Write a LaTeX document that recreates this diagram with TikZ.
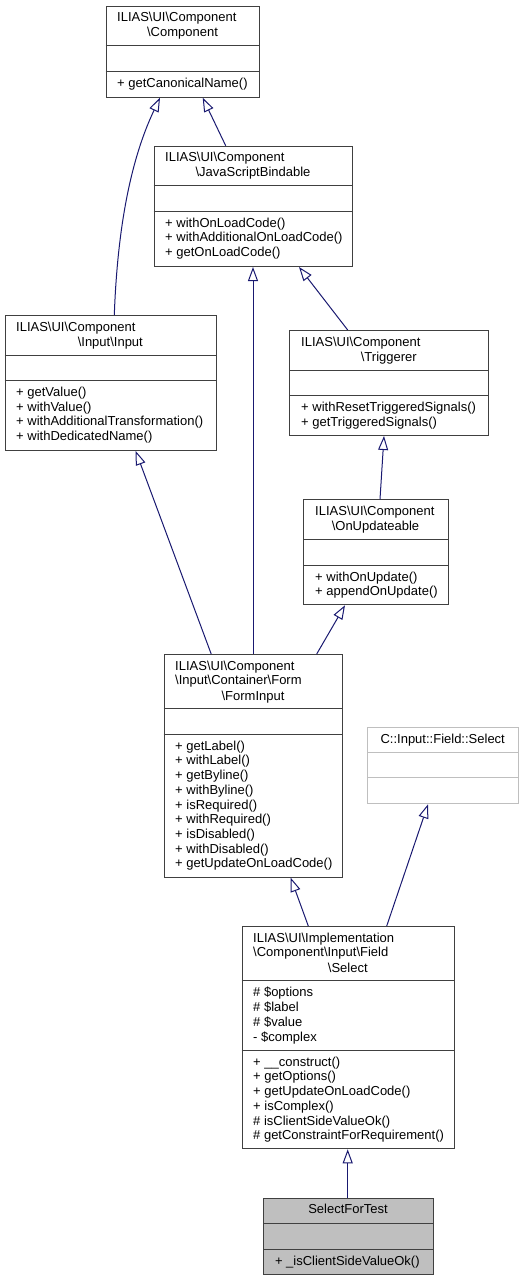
\documentclass[tikz,border=0pt]{standalone}
\usepackage{fontspec}
\setmainfont{Liberation Sans}
\usepackage{xcolor}
\usepackage{tikz}
\usetikzlibrary{arrows.meta, calc}

\definecolor{edgeblue}{HTML}{191970}
\definecolor{boxline}{HTML}{404040}
\definecolor{boxfill}{HTML}{BFBFBF}
\newcommand{\bks}{\textbackslash}

\begin{document}
\begin{tikzpicture}[x=1pt, y=-1pt,
    classbox/.style={draw=boxline, line width=1pt, anchor=north west, inner sep=0pt},
    extbox/.style={classbox, draw=boxfill},
    txt/.style={inner sep=0pt, font=\fontsize{13}{14.7}\selectfont, align=left},
    lines/.style={txt, anchor=north west, yshift=10.29pt},
    inherit/.style={draw=edgeblue, line width=1pt, -{Triangle[open, length=14pt, width=10pt]}}]
  \useasboundingbox (0,0) rectangle (523,1280);

  % ILIAS\UI\Component\Component
  \node[classbox, minimum width=153.6, minimum height=91] (component) at (105.7,5.7) {};
  \draw[boxline, line width=1pt] (component.west |- 0,45.7) -- (component.east |- 0,45.7);
  \draw[boxline, line width=1pt] (component.west |- 0,71) -- (component.east |- 0,71);
  \node[txt, anchor=base west] at (117,21.7) {ILIAS\bks UI\bks Component};
  \node[txt, anchor=base] at (182.5,36.7) {\bks Component};
  \node[txt, anchor=base west] at (117,87) {+ getCanonicalName()};

  % ILIAS\UI\Component\JavaScriptBindable
  \node[classbox, minimum width=198.6, minimum height=120.3] (jsb) at (153.7,145.7) {};
  \draw[boxline, line width=1pt] (jsb.west |- 0,185.7) -- (jsb.east |- 0,185.7);
  \draw[boxline, line width=1pt] (jsb.west |- 0,211) -- (jsb.east |- 0,211);
  \node[txt, anchor=base west] at (165,161.7) {ILIAS\bks UI\bks Component};
  \node[txt, anchor=base] at (253,176.7) {\bks JavaScriptBindable};
  \node[lines] at (165,227) {\strut+ withOnLoadCode()\\+ withAdditionalOnLoadCode()\\+ getOnLoadCode()};

  % ILIAS\UI\Component\Input\Input
  \node[classbox, minimum width=211.3, minimum height=135] (input) at (4.7,315) {};
  \draw[boxline, line width=1pt] (input.west |- 0,355) -- (input.east |- 0,355);
  \draw[boxline, line width=1pt] (input.west |- 0,380.3) -- (input.east |- 0,380.3);
  \node[txt, anchor=base west] at (16,331) {ILIAS\bks UI\bks Component};
  \node[txt, anchor=base] at (110.3,346) {\bks Input\bks Input};
  \node[lines] at (16,396.3) {\strut+ getValue()\\+ withValue()\\+ withAdditionalTransformation()\\+ withDedicatedName()};

  % ILIAS\UI\Component\Triggerer
  \node[classbox, minimum width=199, minimum height=105] (triggerer) at (289.3,330) {};
  \draw[boxline, line width=1pt] (triggerer.west |- 0,370) -- (triggerer.east |- 0,370);
  \draw[boxline, line width=1pt] (triggerer.west |- 0,395.3) -- (triggerer.east |- 0,395.3);
  \node[txt, anchor=base west] at (301,346) {ILIAS\bks UI\bks Component};
  \node[txt, anchor=base] at (388.8,361) {\bks Triggerer};
  \node[lines] at (301,411.3) {\strut+ withResetTriggeredSignals()\\+ getTriggeredSignals()};

  % ILIAS\UI\Component\OnUpdateable
  \node[classbox, minimum width=144.4, minimum height=105] (onupdate) at (303.3,499.3) {};
  \draw[boxline, line width=1pt] (onupdate.west |- 0,539) -- (onupdate.east |- 0,539);
  \draw[boxline, line width=1pt] (onupdate.west |- 0,565) -- (onupdate.east |- 0,565);
  \node[txt, anchor=base west] at (315,515.3) {ILIAS\bks UI\bks Component};
  \node[txt, anchor=base] at (375.5,530.3) {\bks OnUpdateable};
  \node[lines] at (315,581) {\strut+ withOnUpdate()\\+ appendOnUpdate()};

  % ILIAS\UI\Component\Input\Container\Form\FormInput
  \node[classbox, minimum width=178.6, minimum height=222.7] (forminput) at (163.7,654) {};
  \draw[boxline, line width=1pt] (forminput.west |- 0,708.3) -- (forminput.east |- 0,708.3);
  \draw[boxline, line width=1pt] (forminput.west |- 0,734) -- (forminput.east |- 0,734);
  \node[lines] at (175,670) {\strut ILIAS\bks UI\bks Component\\\bks Input\bks Container\bks Form};
  \node[txt, anchor=base] at (253,700) {\bks FormInput};
  \node[lines] at (175,750) {\strut+ getLabel()\\+ withLabel()\\+ getByline()\\+ withByline()\\+ isRequired()\\+ withRequired()\\+ isDisabled()\\+ withDisabled()\\+ getUpdateOnLoadCode()};

  % C::Input::Field::Select
  \node[extbox, minimum width=151.3, minimum height=76] (cselect) at (367,727.3) {};
  \draw[boxfill, line width=1pt] (cselect.west |- 0,752.7) -- (cselect.east |- 0,752.7);
  \draw[boxfill, line width=1pt] (cselect.west |- 0,777.7) -- (cselect.east |- 0,777.7);
  \node[txt, anchor=base] at (442.7,743.3) {C::Input::Field::Select};

  % ILIAS\UI\Implementation\Component\Input\Field\Select
  \node[classbox, minimum width=212.3, minimum height=222.3] (select) at (241.7,926) {};
  \draw[boxline, line width=1pt] (select.west |- 0,980.7) -- (select.east |- 0,980.7);
  \draw[boxline, line width=1pt] (select.west |- 0,1050) -- (select.east |- 0,1050);
  \node[lines] at (253,942) {\strut ILIAS\bks UI\bks Implementation\\\bks Component\bks Input\bks Field};
  \node[txt, anchor=base] at (347.8,972) {\bks Select};
  \node[lines] at (253,996.7) {\strut\# \$options\\\# \$label\\\# \$value\\- \$complex};
  \node[lines] at (253,1066) {\strut+ \_\_construct()\\+ getOptions()\\+ getUpdateOnLoadCode()\\+ isComplex()\\\# isClientSideValueOk()\\\# getConstraintForRequirement()};

  % SelectForTest
  \node[classbox, fill=boxfill, minimum width=169.4, minimum height=76] (fortest) at (263.3,1197.7) {};
  \draw[boxline, line width=1pt] (fortest.west |- 0,1223) -- (fortest.east |- 0,1223);
  \draw[boxline, line width=1pt] (fortest.west |- 0,1249) -- (fortest.east |- 0,1249);
  \node[txt, anchor=base] at (348,1213.7) {SelectForTest};
  \node[txt, anchor=base west] at (274.8,1265) {+ \_isClientSideValueOk()};

  % inheritance
  \draw[inherit] ($(input.north west)+(109.6,0)$) .. controls ($(input.north west)+(112.3,-75)$) and ($(component.south west)+(22,68)$) .. ($(component.south west)+(54.3,0)$);
  \draw[inherit] ($(jsb.north west)+(72,0)$) -- ($(component.south west)+(97,0)$);
  \draw[inherit] ($(forminput.north west)+(89.3,0)$) -- ($(jsb.south west)+(99.3,0)$);
  \draw[inherit] ($(triggerer.north west)+(58.4,0)$) -- ($(jsb.south west)+(145.3,0)$);
  \draw[inherit] ($(forminput.north west)+(47.5,0)$) -- ($(input.south west)+(131,0)$);
  \draw[inherit] ($(onupdate.north west)+(76.7,0)$) -- ($(triggerer.south west)+(94.7,0)$);
  \draw[inherit] ($(forminput.north west)+(153,0)$) -- ($(onupdate.south west)+(41.7,0)$);
  \draw[inherit] ($(select.north west)+(66.6,0)$) -- ($(forminput.south west)+(127,0)$);
  \draw[inherit] ($(select.north west)+(145,0)$) -- ($(cselect.south west)+(61,0)$);
  \draw[inherit] ($(fortest.north west)+(84.4,0)$) -- ($(select.south west)+(106,0)$);
\end{tikzpicture}
\end{document}
